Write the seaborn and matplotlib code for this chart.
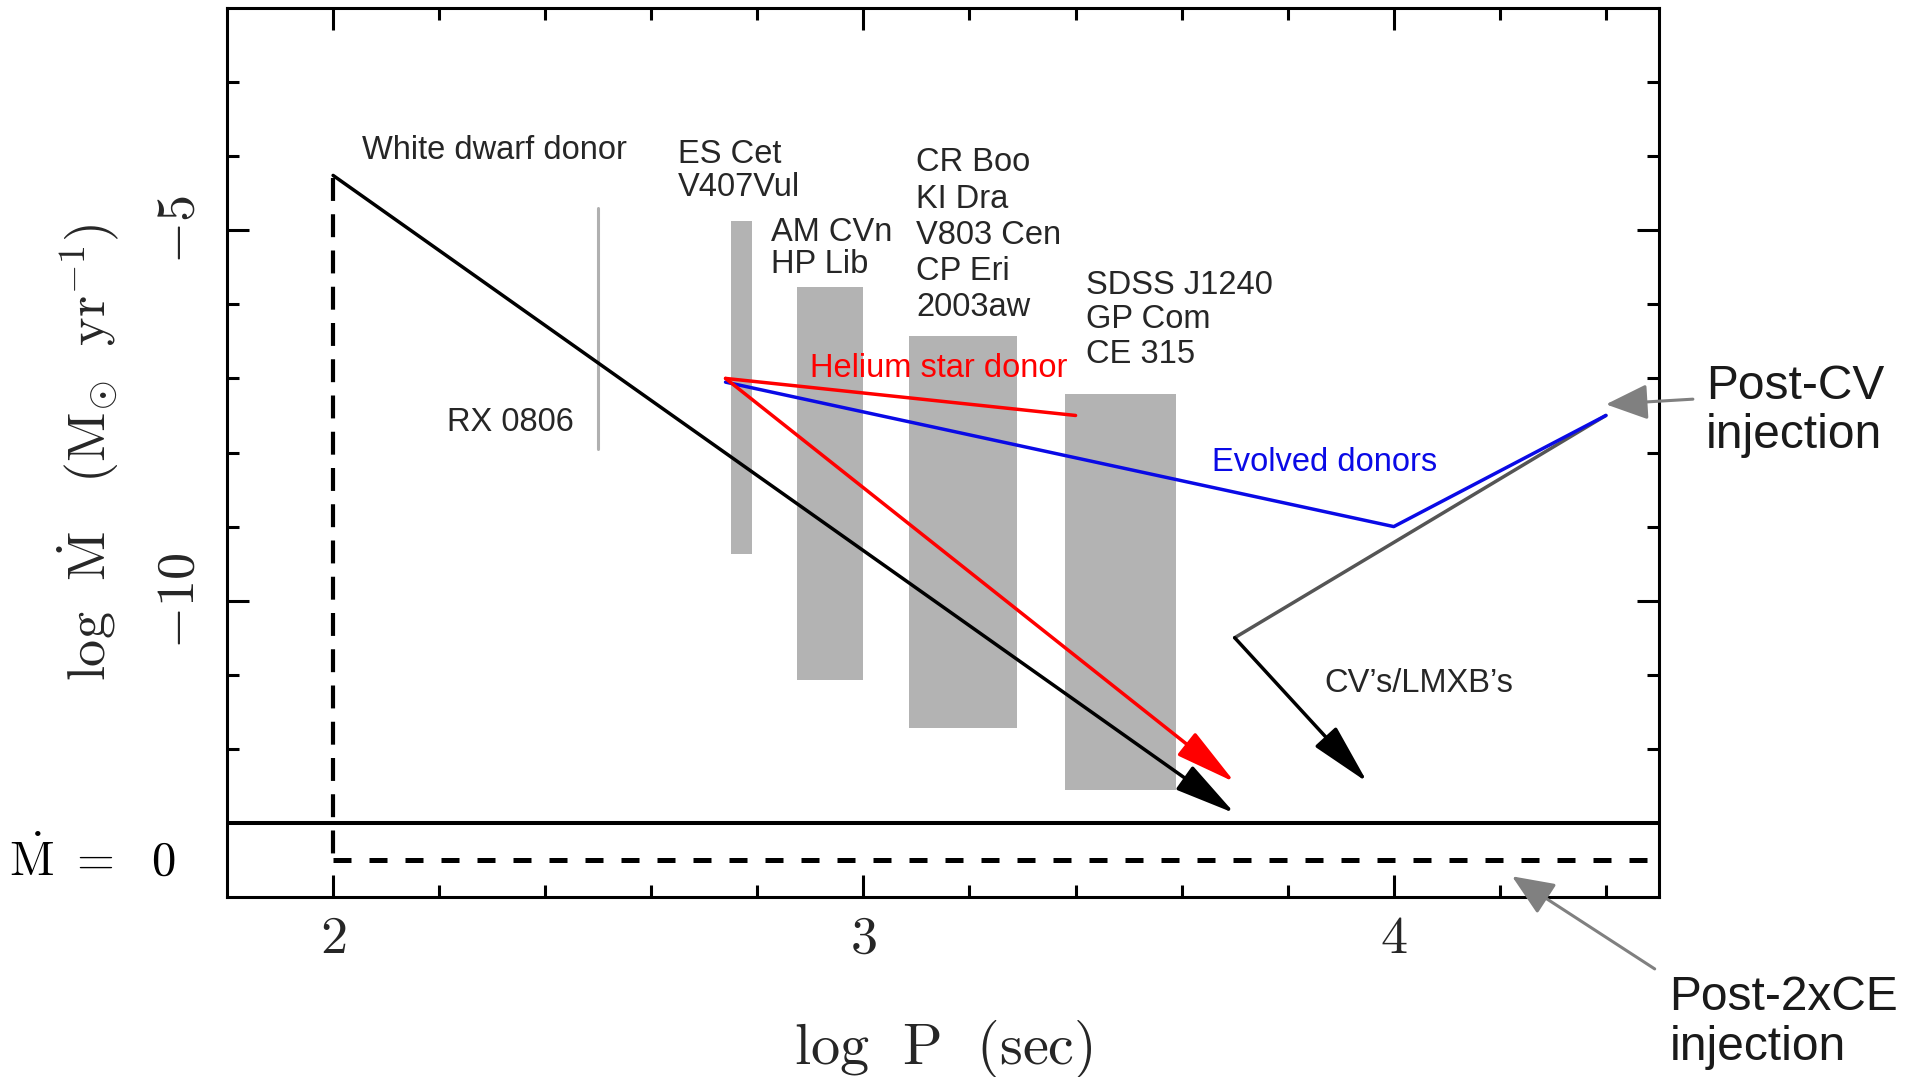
import numpy as np
import pandas as pd
import matplotlib
matplotlib.use("Agg")
import matplotlib.pyplot as plt
import seaborn as sns

# ---------------- data ----------------
# grey observed-system bands (log P range, log Mdot range)
bar_x_lo = [2.75, 2.875, 3.085, 3.38]
bar_x_hi = [2.79, 3.00, 3.29, 3.59]
bar_y_lo = [-9.37, -11.07, -11.72, -12.56]
bar_y_hi = [-4.87, -5.77, -6.43, -7.21]

# RX 0806 thin line
rx_x = [2.5, 2.5]
rx_y = [-4.70, -7.95]

# evolutionary tracks
wd_x = [2.00, 3.70]          # white dwarf donor (arrow)
wd_y = [-4.26, -12.87]
he_arrow_x = [2.74, 3.70]    # helium star donor (arrow)
he_arrow_y = [-7.00, -12.45]
he_line_x = [2.74, 3.40]     # helium star donor (short line)
he_line_y = [-7.00, -7.50]
ev_x = [2.74, 4.00, 4.40]    # evolved donors
ev_y = [-7.05, -9.00, -7.50]
cv_line_x = [3.70, 4.40]     # CV/LMXB track, rising part
cv_line_y = [-10.50, -7.50]
cv_arrow_x = [3.70, 3.95]    # CV/LMXB arrow
cv_arrow_y = [-10.50, -12.45]
zero_v_x = [2.00, 2.00]      # dashed Mdot = 0 path (vertical part)
zero_v_y = [-4.30, -13.50]
zero_h_x = [2.00, 4.50]      # dashed Mdot = 0 path (horizontal part)
zero_h_y = [-13.50, -13.50]
mdot_zero_level = -13.0

x_major = [2, 3, 4]
x_major_labels = [r"$2$", r"$3$", r"$4$"]
x_minor = [2.2, 2.4, 2.6, 2.8, 3.2, 3.4, 3.6, 3.8, 4.2, 4.4]
y_major = [-10, -5]
y_major_labels = [r"$-10$", r"$-5$"]
y_minor = [-12, -11, -9, -8, -7, -6, -4, -3]

# ---------------- style ----------------
sns.set_theme(style="ticks")
plt.rcParams["font.family"] = ["Liberation Sans", "DejaVu Sans"]
plt.rcParams["mathtext.fontset"] = "cm"

fig = plt.figure(figsize=(19.11, 10.77), dpi=100)
ax = fig.add_axes([0.1188, 0.1671, 0.8681 - 0.1188, 0.9926 - 0.1671])

lw = 2.5
txt_col = "#262626"

# grey bands
heights = np.array(bar_y_hi) - np.array(bar_y_lo)
widths = np.array(bar_x_hi) - np.array(bar_x_lo)
ax.bar(bar_x_lo, heights, width=widths, bottom=bar_y_lo, align="edge",
       color="#b3b3b3", edgecolor="none", zorder=1)

def line(x, y, **kw):
    df = pd.DataFrame({"x": x, "y": y})
    sns.lineplot(data=df, x="x", y="y", sort=False, estimator=None, ax=ax, **kw)

line(rx_x, rx_y, color="#b0b0b0", lw=2.2, zorder=2)
line(zero_v_x, zero_v_y, color="black", lw=3.0, dashes=(5.5, 3.2), zorder=3)
line(zero_h_x, zero_h_y, color="black", lw=3.6, dashes=(3.6, 3.6), zorder=3)
ax.axhline(mdot_zero_level, color="black", lw=2.9, zorder=3)
line(ev_x, ev_y, color="#0a0ae6", lw=lw, zorder=4)
line(cv_line_x, cv_line_y, color="#555555", lw=lw, zorder=3)
line(he_line_x, he_line_y, color="#ff0000", lw=lw, zorder=5)

def arrow(x, y, color):
    ax.annotate("", xy=(x[1], y[1]), xytext=(x[0], y[0]),
                arrowprops=dict(arrowstyle="-|>,head_length=1.9,head_width=0.45",
                                color=color, lw=lw, shrinkA=0, shrinkB=0,
                                mutation_scale=20), zorder=5)

arrow(wd_x, wd_y, "black")
arrow(he_arrow_x, he_arrow_y, "#ff0000")
arrow(cv_arrow_x, cv_arrow_y, "black")

# labels inside
fs = 23.5
ax.text(2.055, -3.92, "White dwarf donor", fontsize=fs, color=txt_col, va="center", ha="left")
ax.text(2.65, -4.20, "ES Cet\nV407Vul", fontsize=fs, color=txt_col, va="center", ha="left", linespacing=1.05)
ax.text(2.825, -5.25, "AM CVn\nHP Lib", fontsize=fs, color=txt_col, va="center", ha="left", linespacing=1.05)
ax.text(3.10, -5.07, "CR Boo\nKI Dra\nV803 Cen\nCP Eri\n2003aw", fontsize=fs, color=txt_col,
        va="center", ha="left", linespacing=1.22)
ax.text(3.42, -6.21, "SDSS J1240\nGP Com\nCE 315", fontsize=fs, color=txt_col, va="center",
        ha="left", linespacing=1.13)
ax.text(2.215, -7.60, "RX 0806", fontsize=fs, color=txt_col, va="center", ha="left")
ax.text(2.90, -6.87, "Helium star donor", fontsize=fs, color="#ff0000", va="center", ha="left", zorder=6)
ax.text(3.657, -8.14, "Evolved donors", fontsize=fs, color="#0a0ae6", va="center", ha="left")
ax.text(3.87, -11.12, "CV\u2019s/LMXB\u2019s", fontsize=fs, color=txt_col, va="center", ha="left")

# annotations outside
ax.annotate("", xy=(4.40, -7.35), xytext=(4.564, -7.28),
            arrowprops=dict(arrowstyle="-|>,head_length=1.3,head_width=0.55",
                            color="#808080", lw=2.2, shrinkA=0, shrinkB=0,
                            mutation_scale=20), annotation_clip=False, zorder=6)
ax.text(4.589, -7.44, "Post-CV\ninjection", fontsize=34.5, color="#1a1a1a", va="center",
        ha="left", linespacing=1.13, clip_on=False)
ax.annotate("", xy=(4.223, -13.72), xytext=(4.492, -14.97),
            arrowprops=dict(arrowstyle="-|>,head_length=1.3,head_width=0.55",
                            color="#808080", lw=2.2, shrinkA=0, shrinkB=0,
                            mutation_scale=20), annotation_clip=False, zorder=6)
ax.text(4.52, -15.69, "Post-2xCE\ninjection", fontsize=34.5, color="#1a1a1a", va="center",
        ha="left", linespacing=1.13, clip_on=False)

ax.text(1.545, -13.5, r"$\dot{\mathrm{M}}\ =\ \ 0$", fontsize=35, color="black",
        va="center", ha="center", clip_on=False)

# axes
ax.set_xlim(1.8, 4.5)
ax.set_ylim(-14, -2)
ax.set_xticks(x_major, labels=x_major_labels)
ax.set_xticks(x_minor, minor=True)
ax.set_yticks(y_major, labels=y_major_labels)
ax.set_yticks(y_minor, minor=True)
ax.tick_params(which="both", direction="in", top=True, right=True, width=2.2, color="black")
ax.tick_params(which="major", length=16, labelsize=39)
ax.tick_params(which="minor", length=8.5)
ax.tick_params(axis="x", which="major", pad=12)
ax.tick_params(axis="y", which="major", pad=16, labelrotation=90)
for t in ax.get_yticklabels():
    t.set_va("center")
for s in ax.spines.values():
    s.set_linewidth(2.2)
    s.set_color("black")

ax.set_xlabel(r"$\mathrm{log}\ \ \mathrm{P}\ \ (\mathrm{sec})$", fontsize=42)
ax.set_ylabel(r"$\mathrm{log}\ \ \dot{\mathrm{M}}\quad(\mathrm{M}_{\odot}\ \ \mathrm{yr}^{-1})$",
              fontsize=39)
ax.xaxis.set_label_coords(0.5, -0.136)
ax.yaxis.set_label_coords(-0.074, 0.5)

fig.savefig("out.png", dpi=100, facecolor="white")
